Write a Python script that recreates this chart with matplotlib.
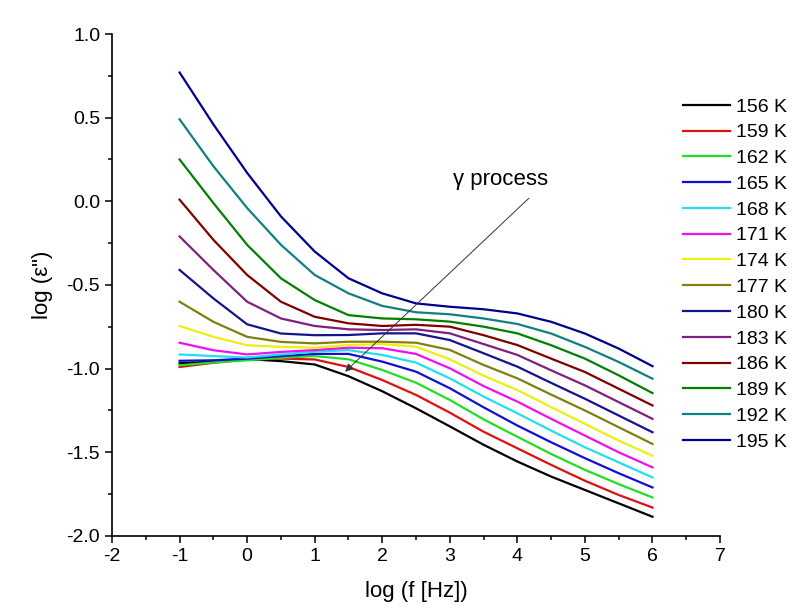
import numpy as np
import matplotlib
matplotlib.use("Agg")
import matplotlib.pyplot as plt
from matplotlib.ticker import MultipleLocator

plt.rcParams['font.family'] = ['Liberation Sans', 'DejaVu Sans']
plt.rcParams['axes.unicode_minus'] = False

# log(f) grid
logf = [-1, -0.5, 0, 0.5, 1, 1.5, 2, 2.5, 3, 3.5, 4, 4.5, 5, 5.5, 6]

temps = ["156 K", "159 K", "162 K", "165 K", "168 K", "171 K", "174 K",
         "177 K", "180 K", "183 K", "186 K", "189 K", "192 K", "195 K"]

eps_156 = [-0.968, -0.958, -0.943, -0.955, -0.975, -1.045, -1.135, -1.237, -1.345, -1.455, -1.555, -1.645, -1.725, -1.805, -1.885]
eps_159 = [-0.99, -0.965, -0.945, -0.94, -0.945, -0.99, -1.068, -1.157, -1.263, -1.377, -1.476, -1.575, -1.67, -1.755, -1.83]
eps_162 = [-0.98, -0.963, -0.95, -0.935, -0.925, -0.944, -1.008, -1.084, -1.187, -1.303, -1.407, -1.51, -1.605, -1.69, -1.77]
eps_165 = [-0.953, -0.95, -0.94, -0.925, -0.912, -0.912, -0.958, -1.018, -1.117, -1.231, -1.34, -1.44, -1.535, -1.625, -1.71]
eps_168 = [-0.915, -0.925, -0.933, -0.915, -0.899, -0.889, -0.918, -0.964, -1.058, -1.167, -1.267, -1.37, -1.47, -1.56, -1.65]
eps_171 = [-0.845, -0.89, -0.915, -0.90, -0.889, -0.875, -0.878, -0.912, -0.998, -1.104, -1.197, -1.30, -1.40, -1.50, -1.59]
eps_174 = [-0.745, -0.81, -0.86, -0.87, -0.875, -0.859, -0.853, -0.869, -0.944, -1.042, -1.128, -1.23, -1.33, -1.43, -1.52]
eps_177 = [-0.60, -0.72, -0.81, -0.84, -0.849, -0.839, -0.839, -0.845, -0.888, -0.978, -1.058, -1.155, -1.25, -1.35, -1.45]
eps_180 = [-0.41, -0.58, -0.735, -0.79, -0.80, -0.799, -0.789, -0.789, -0.829, -0.908, -0.988, -1.085, -1.18, -1.28, -1.38]
eps_183 = [-0.21, -0.41, -0.60, -0.70, -0.745, -0.765, -0.769, -0.765, -0.789, -0.853, -0.918, -1.01, -1.10, -1.20, -1.30]
eps_186 = [0.01, -0.23, -0.44, -0.60, -0.69, -0.729, -0.745, -0.738, -0.749, -0.80, -0.859, -0.94, -1.02, -1.12, -1.22]
eps_189 = [0.25, -0.01, -0.26, -0.46, -0.59, -0.68, -0.70, -0.705, -0.719, -0.749, -0.789, -0.86, -0.94, -1.04, -1.146]
eps_192 = [0.49, 0.21, -0.04, -0.26, -0.44, -0.55, -0.625, -0.663, -0.675, -0.70, -0.733, -0.79, -0.87, -0.96, -1.06]
eps_195 = [0.77, 0.46, 0.17, -0.09, -0.30, -0.46, -0.55, -0.61, -0.63, -0.645, -0.67, -0.72, -0.79, -0.88, -0.985]

series = [eps_156, eps_159, eps_162, eps_165, eps_168, eps_171, eps_174,
          eps_177, eps_180, eps_183, eps_186, eps_189, eps_192, eps_195]

colors = ['#000000', '#e01010', '#22dd22', '#1010d0', '#20e0f0', '#ee10ee', '#eeee10',
          '#808010', '#14148c', '#801f80', '#800000', '#008000', '#108080', '#00008c']

fig = plt.figure(figsize=(8.02, 6.16), dpi=100)
ax = fig.add_axes([0.1397, 0.1299, 0.7581, 0.8149])

for y, c, lab in zip(series, colors, temps):
    ax.plot(logf, y, color=c, lw=1.6, label=lab)

ax.set_xlim(-2, 7)
ax.set_ylim(-2, 1)
ax.xaxis.set_major_locator(MultipleLocator(1))
ax.xaxis.set_minor_locator(MultipleLocator(0.5))
ax.yaxis.set_major_locator(MultipleLocator(0.5))
ax.yaxis.set_minor_locator(MultipleLocator(0.25))
ax.yaxis.set_major_formatter(plt.FormatStrFormatter('%.1f'))
ax.tick_params(which='major', direction='out', length=5, width=1.1, labelsize=14)
ax.tick_params(which='minor', direction='out', length=3, width=1.1)
for s in ['top', 'right']:
    ax.spines[s].set_visible(False)
for s in ['left', 'bottom']:
    ax.spines[s].set_linewidth(1.2)

ax.set_xlabel("log (f [Hz])", fontsize=16, labelpad=12)
ax.set_ylabel("log (ε\")", fontsize=16, labelpad=10)

ax.text(3.05, 0.13, "γ process", fontsize=16, ha='left', va='center')
ax.annotate('', xy=(1.42, -1.03), xytext=(4.2, 0.03),
            arrowprops=dict(arrowstyle='-|>', color='#333333', lw=0.7, mutation_scale=12))

fig.legend(loc='upper left', bbox_to_anchor=(683 / 802, 1 - 98 / 616), frameon=False,
           fontsize=14, handlelength=2.4, handletextpad=0.35, labelspacing=0.42,
           borderpad=0, borderaxespad=0)

fig.savefig("out.png", dpi=100)
